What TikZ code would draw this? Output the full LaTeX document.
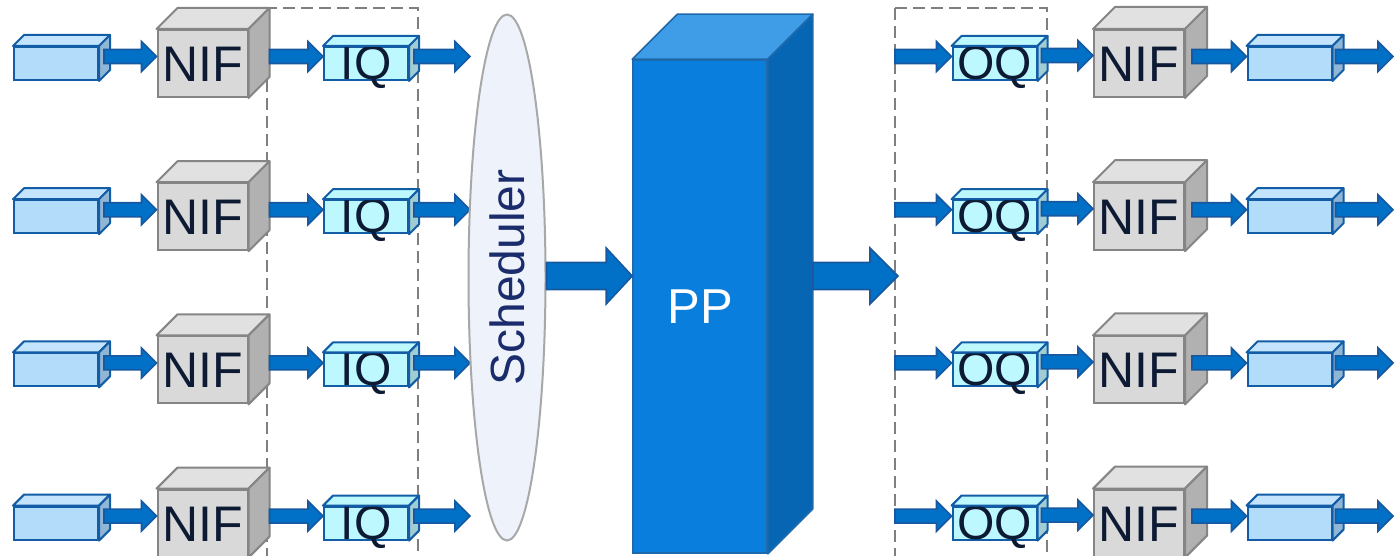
\documentclass[tikz,border=0pt]{standalone}
\usepackage{fontspec}
\setmainfont{Liberation Sans}
\usetikzlibrary{calc,shapes.geometric}

\definecolor{flowblue}{HTML}{0071C6}
\definecolor{flowedge}{HTML}{1758A0}
\definecolor{boxedge}{HTML}{125DA6}
\definecolor{portfront}{HTML}{B3DCFB}
\definecolor{porttop}{HTML}{C3E4FC}
\definecolor{portside}{HTML}{90B6D5}
\definecolor{queuefront}{HTML}{BDF8FE}
\definecolor{queueside}{HTML}{9FCDD3}
\definecolor{niffront}{HTML}{D9D9D9}
\definecolor{niftop}{HTML}{E1E1E1}
\definecolor{nifside}{HTML}{B1B1B1}
\definecolor{nifedge}{HTML}{858585}
\definecolor{ppfront}{HTML}{0A7EDC}
\definecolor{pptop}{HTML}{3E9DE6}
\definecolor{ppside}{HTML}{0766B4}
\definecolor{ppedge}{HTML}{1E68AC}
\definecolor{schedfill}{HTML}{EDF2FB}
\definecolor{schededge}{HTML}{A8A8A8}
\definecolor{schedtext}{HTML}{1B2C6C}
\definecolor{labeltext}{HTML}{0D1A33}
\definecolor{groupedge}{HTML}{7F7F7F}

\tikzset{
  group/.style={draw=groupedge, line width=1.1pt, dash pattern=on 6pt off 3pt},
  port/.style={draw=boxedge, fill=portfront, line width=1pt, inner sep=0pt,
    minimum width=42pt, minimum height=16.5pt},
  queue/.style={port, fill=queuefront, text=labeltext,
    font=\fontsize{24}{24}\selectfont, text height=16pt, text depth=0pt},
  nif/.style={draw=nifedge, fill=niffront, line width=1pt, inner sep=0pt,
    minimum width=45pt, minimum height=33.5pt, text=labeltext,
    font=\fontsize{25}{25}\selectfont, text height=18pt, text depth=0pt},
  pp/.style={draw=ppedge, fill=ppfront, line width=0.8pt, inner sep=0pt,
    minimum width=67pt, minimum height=246.5pt, text=white,
    font=\fontsize{24.5}{24.5}\selectfont},
  sched/.style={ellipse, draw=schededge, fill=schedfill, line width=1pt,
    inner sep=0pt, minimum width=263pt, minimum height=38.5pt, rotate=90,
    text=schedtext, font=\fontsize{24}{24}\selectfont,
    text height=17.5pt, text depth=0pt},
  porttop/.style={draw=boxedge, fill=porttop, line width=1pt, line join=round},
  portside/.style={draw=boxedge, fill=portside, line width=1pt, line join=round},
  queuetop/.style={draw=boxedge, fill=queuefront, line width=1pt, line join=round},
  queueside/.style={draw=boxedge, fill=queueside, line width=1pt, line join=round},
  niftop/.style={draw=nifedge, fill=niftop, line width=1pt, line join=round},
  nifside/.style={draw=nifedge, fill=nifside, line width=1pt, line join=round},
  pptop/.style={draw=ppedge, fill=pptop, line width=0.8pt, line join=round},
  ppside/.style={draw=ppedge, fill=ppside, line width=0.8pt, line join=round},
  flowline/.style={draw=flowedge, fill=flowblue, line width=0.8pt, line join=miter},
}

% top and side faces behind a front node
\newcommand\faces[4]{%
  \path[#3] (#1.north west) -- ++(#2,-#2) -- ([shift={(#2,-#2)}]#1.north east)
    -- (#1.north east) -- cycle;
  \path[#4] (#1.north east) -- ++(#2,-#2) -- ([shift={(#2,-#2)}]#1.south east)
    -- (#1.south east) -- cycle;}

% block arrow: from, to, half body, half head, head length
\newcommand\flow[5]{%
  \path[flowline] let \p1=(#1), \p2=(#2) in
    (\x1,\y2+#3) -- (\x2-#5,\y2+#3) -- (\x2-#5,\y2+#4) -- (\x2,\y2)
    -- (\x2-#5,\y2-#4) -- (\x2-#5,\y2-#3) -- (\x1,\y2-#3) -- cycle;}

\begin{document}
\begin{tikzpicture}[x=0.5pt, y=-0.5pt]
\useasboundingbox (0,0) rectangle (1396,556);

% dashed queue groups
\draw[group] (267,8) rectangle (418,564);
\draw[group] (895,8) rectangle (1047,564);

% one line card per row
\foreach \i in {1,...,4}{
  \pgfmathsetmacro\r{63.5+153.2*(\i-1)}
  \node[port] (in\i) at (56,\r) {};
  \faces{in\i}{11}{porttop}{portside}
  \node[nif] (nif\i) at (202.5,\r) {NIF};
  \faces{nif\i}{21}{niftop}{nifside}
  \node[queue] (iq\i) at (366,\r) {IQ};
  \faces{iq\i}{10}{queuetop}{queueside}
  \coordinate (iqout\i) at (470,\r-7);

  \coordinate (oqin\i) at (895,\r-7);
  \node[queue] (oq\i) at (994.5,\r) {OQ};
  \faces{oq\i}{10}{queuetop}{queueside}
  \node[nif] (onif\i) at (1139,\r) {NIF};
  \faces{onif\i}{22}{niftop}{nifside}
  \node[port] (out\i) at (1289.5,\r) {};
  \faces{out\i}{11}{porttop}{portside}
  \coordinate (exit\i) at (1393,\r-7);

  \flow{[xshift=2.5pt]in\i.east}{$(nif\i.west)+(0,-7)$}{3.5pt}{7.5pt}{7.5pt}
  \flow{[xshift=10.5pt]nif\i.east}{$(iq\i.west)+(0,-7)$}{3.5pt}{7.5pt}{7.5pt}
  \flow{[xshift=2.5pt]iq\i.east}{iqout\i}{3.5pt}{7.5pt}{7.5pt}
  \flow{oqin\i}{$(oq\i.west)+(0,-7)$}{3.5pt}{7.5pt}{7.5pt}
  \flow{[xshift=2pt]oq\i.east}{$(onif\i.west)+(0,-8)$}{3.5pt}{7.5pt}{7.5pt}
  \flow{[xshift=3.5pt]onif\i.east}{$(out\i.west)+(0,-7)$}{3.5pt}{7.5pt}{7.5pt}
  \flow{[xshift=1.5pt]out\i.east}{exit\i}{3.5pt}{7.5pt}{7.5pt}
}

\node[sched] (sched) at (507,277.5) {Scheduler};

\node[pp] (pp) at (700,306.5) {PP};
\faces{pp}{45}{pptop}{ppside}
\coordinate (ppout) at (898,276);

\flow{sched.south}{pp.west |- 0,276}{6.75pt}{14pt}{13pt}
\flow{[xshift=22.5pt]pp.east}{ppout}{6.75pt}{14pt}{14pt}
\end{tikzpicture}
\end{document}
